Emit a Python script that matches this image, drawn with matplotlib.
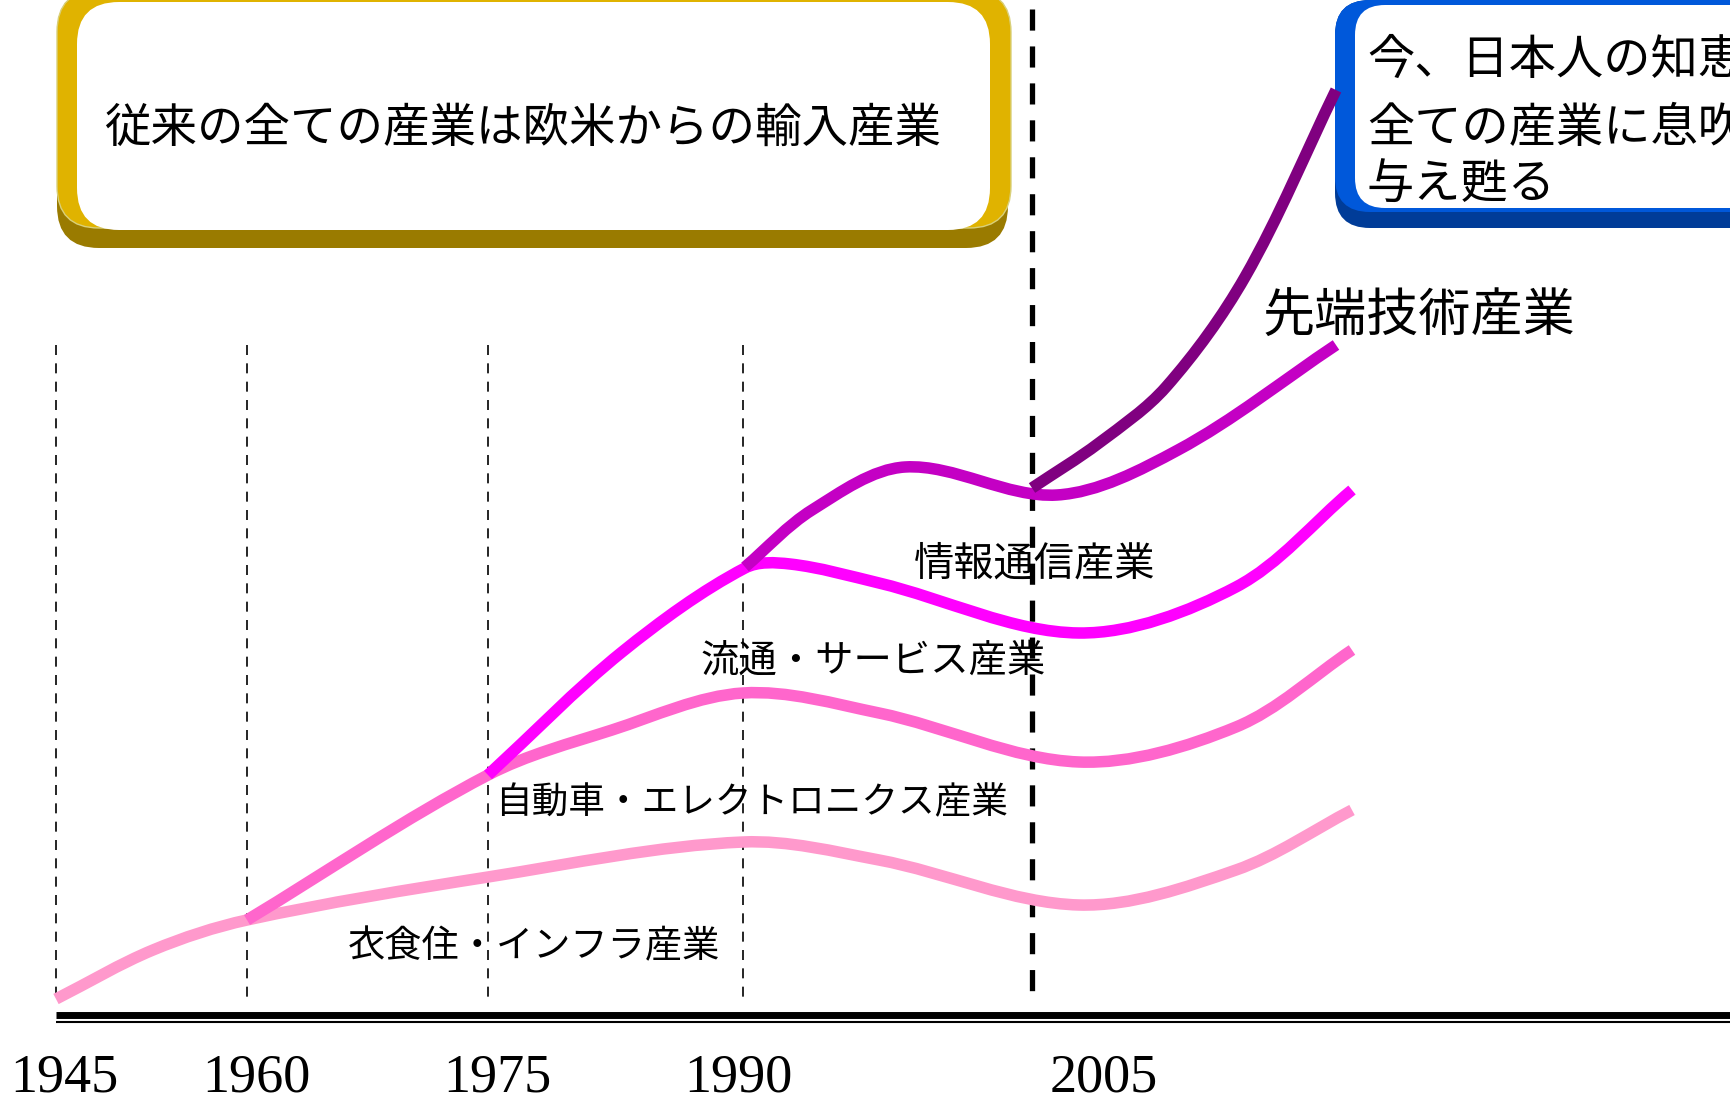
import numpy as np
import matplotlib
matplotlib.use('Agg')
import matplotlib.pyplot as plt
from matplotlib.path import Path
from matplotlib.patches import PathPatch, FancyBboxPatch

plt.rcParams['font.family'] = ['Noto Sans CJK JP', 'DejaVu Sans']

# --- data (pixel positions of the slide, y grows downward) ---
years = ['1945', '1960', '1975', '1990', '2005']

infra_x = [56, 153, 247, 488, 743, 879, 1079, 1236, 1352]
infra_y = [999, 950, 920, 877, 842, 860, 905, 870, 810]

auto_x = [247, 488, 612, 743, 879, 1079, 1236, 1352]
auto_y = [920, 775, 730, 693, 713, 762, 727, 650]

service_x = [488, 622, 745, 790, 879, 1079, 1236, 1352]
service_y = [775, 652, 568, 564, 583, 633, 587, 490]

it_x = [745, 812, 905, 1057, 1178, 1336]
it_y = [567, 510, 467, 495, 450, 345]

hitech_x = [1032, 1099, 1166, 1245, 1336]
hitech_y = [488, 443, 387, 277, 90]

labels = ['衣食住・インフラ産業', '自動車・エレクトロニクス産業', '流通・サービス産業',
          '情報通信産業', '先端技術産業']

# --- layout ---
era_x = [56, 247, 488, 743]
now_x = 1032
year_x = [64, 256, 497, 738, 1104]


def smooth(xs, ys):
    # catmull-rom through the read points (chord-length knots), drawn as beziers
    p = np.column_stack([xs, ys]).astype(float)
    t = np.concatenate([[0], np.cumsum(np.hypot(*np.diff(p, axis=0).T))])
    tan = np.empty_like(p)
    tan[1:-1] = (p[2:] - p[:-2]) / (t[2:] - t[:-2])[:, None]
    tan[0] = (p[1] - p[0]) / (t[1] - t[0])
    tan[-1] = (p[-1] - p[-2]) / (t[-1] - t[-2])
    verts = [p[0]]
    codes = [Path.MOVETO]
    for i in range(len(p) - 1):
        h = t[i + 1] - t[i]
        verts += [p[i] + tan[i] * h / 3, p[i + 1] - tan[i + 1] * h / 3, p[i + 1]]
        codes += [Path.CURVE4] * 3
    return Path(verts, codes)


fig = plt.figure(figsize=(17.31, 10.98), dpi=100)
ax = fig.add_axes([0, 0, 1, 1])
ax.set_xlim(0, 1731)
ax.set_ylim(1098, 0)
ax.axis('off')

# yellow box
ax.add_patch(FancyBboxPatch((57, -10), 951, 258, boxstyle='round,pad=0,rounding_size=42',
                            fc='#9A7B00', ec='none', zorder=1))
ax.add_patch(FancyBboxPatch((57, -10), 954, 238, boxstyle='round,pad=0,rounding_size=42',
                            fc='#E0B300', ec='#D9D07A', lw=1, zorder=1))
ax.add_patch(FancyBboxPatch((77, 2), 913, 228, boxstyle='round,pad=0,rounding_size=42',
                            fc='white', ec='none', zorder=1))
ax.text(523, 129, '従来の全ての産業は欧米からの輸入産業', fontsize=33.5,
        ha='center', va='center', zorder=2)

# blue box
ax.add_patch(FancyBboxPatch((1335, 0), 500, 228, boxstyle='round,pad=0,rounding_size=35',
                            fc='#003C98', ec='none', zorder=1))
ax.add_patch(FancyBboxPatch((1335, 0), 500, 212, boxstyle='round,pad=0,rounding_size=35',
                            fc='#0058DA', ec='none', zorder=1))
ax.add_patch(FancyBboxPatch((1355, 5), 480, 203, boxstyle='round,pad=0,rounding_size=30',
                            fc='white', ec='none', zorder=1))
for txt, yy in zip(['今、日本人の知恵', '全ての産業に息吹', '与え甦る'], [61, 129, 186]):
    ax.text(1367, yy, txt, fontsize=34, ha='left', va='center', zorder=2)

# curve labels
ax.text(534, 947, labels[0], fontsize=26.8, ha='center', va='center', zorder=1)
ax.text(751, 803, labels[1], fontsize=26.4, ha='center', va='center', zorder=1)
ax.text(873, 661, labels[2], fontsize=27.6, ha='center', va='center', zorder=1)
ax.text(1035, 564, labels[3], fontsize=29, ha='center', va='center', zorder=1)
ax.text(1419, 316, labels[4], fontsize=37.5, ha='center', va='center', zorder=1)

# era separators
for x in era_x:
    ax.plot([x, x], [345, 1002], color='black', lw=1.2, ls=(0, (6.0, 5.0)), zorder=2)
ax.plot([now_x, now_x], [9, 1002], color='black', lw=3.8, ls=(0, (4.0, 3.0)),
        solid_capstyle='butt', dash_capstyle='butt', zorder=2)

# time axis (double line)
ax.plot([56, 1731], [1014.5, 1014.5], color='black', lw=5, solid_capstyle='butt', zorder=2)
ax.plot([56, 1731], [1022, 1022], color='black', lw=1.5, solid_capstyle='butt', zorder=2)

for y, x in zip(years, year_x):
    ax.text(x, 1092, y, fontsize=39, family='Liberation Serif',
            ha='center', va='baseline', zorder=2)

# industry curves
curves = [(infra_x, infra_y, '#FF99CC'), (auto_x, auto_y, '#FF66CC'),
          (service_x, service_y, '#FF00FF'), (it_x, it_y, '#C400C4'),
          (hitech_x, hitech_y, '#800080')]
for xs, ys, c in curves:
    ax.add_patch(PathPatch(smooth(xs, ys), fill=False, ec=c, lw=8.3,
                           capstyle='butt', joinstyle='round', zorder=3))

plt.savefig('out.png', dpi=100)
